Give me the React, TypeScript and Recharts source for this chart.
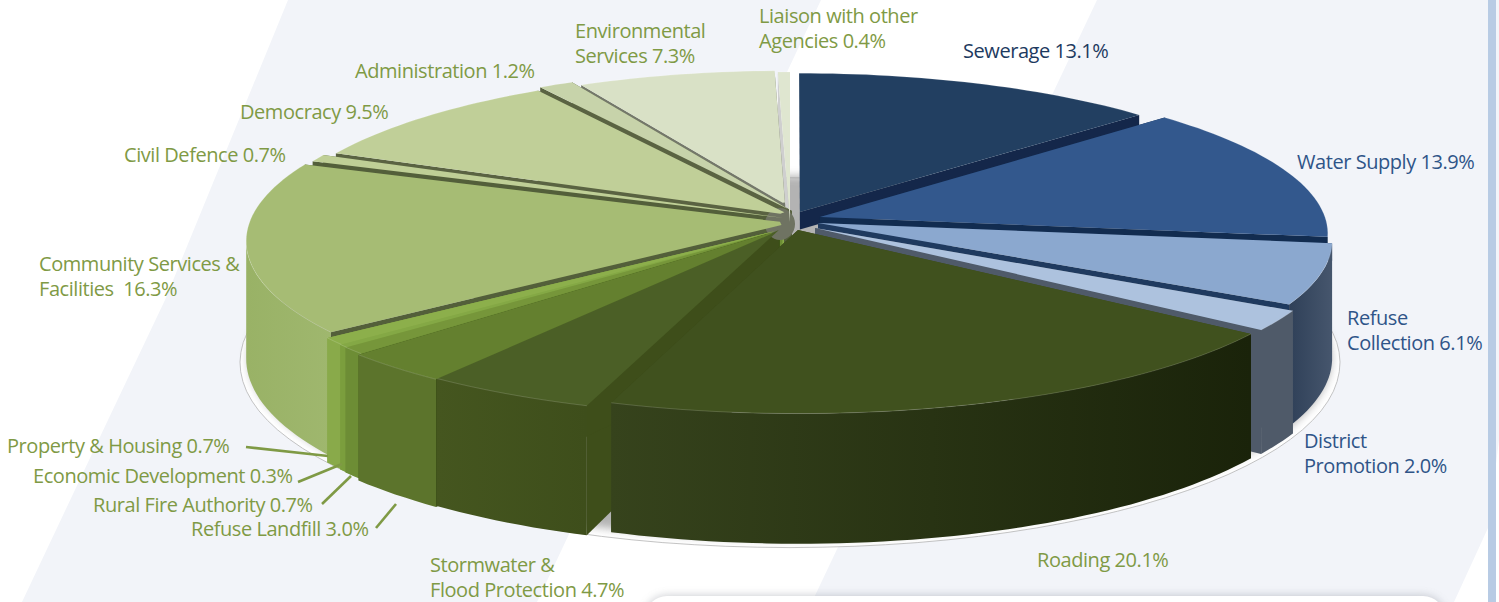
import React from "react";
import { PieChart, Pie } from "recharts";

// Share of rates spending by activity, percent
const categories = [
  "Sewerage", "Water Supply", "Refuse Collection", "District Promotion", "Roading",
  "Stormwater & Flood Protection", "Refuse Landfill", "Rural Fire Authority",
  "Economic Development", "Property & Housing", "Community Services & Facilities",
  "Civil Defence", "Democracy", "Administration", "Environmental Services",
  "Liaison with other Agencies",
];
const shares = [13.1, 13.9, 6.1, 2.0, 20.1, 4.7, 3.0, 0.7, 0.3, 0.7, 16.3, 0.7, 9.5, 1.2, 7.3, 0.4];

// Label text broken onto lines, last line carries the figure
const labelHeads = [
  ["Sewerage "], ["Water Supply "], ["Refuse", "Collection "], ["District", "Promotion "], ["Roading "],
  ["Stormwater &", "Flood Protection "], ["Refuse Landfill "], ["Rural Fire Authority "],
  ["Economic Development "], ["Property & Housing "], ["Community Services &", "Facilities  "],
  ["Civil Defence "], ["Democracy "], ["Administration "], ["Environmental", "Services "],
  ["Liaison with other", "Agencies "],
];

// Where each label sits and how it is coloured
const labelSpots: [number, number][] = [
  [963, 58], [1297, 169], [1347, 325], [1304, 448], [1037, 567],
  [430, 572], [191, 536], [93, 512], [33, 483], [7, 453], [39, 271],
  [124, 162], [240, 119], [355, 78], [575, 38], [759, 23],
];
const labelInk = ["#1d3a60", "#2f5488", "#2f5488", "#2f5488", "#7f9a45", "#7f9a45", "#7f9a45", "#7f9a45",
  "#7f9a45", "#7f9a45", "#7f9a45", "#7f9a45", "#7f9a45", "#7f9a45", "#7f9a45", "#7f9a45"];

const leaderLines: Record<number, [number, number, number, number]> = {
  6: [376, 528, 396, 504],
  7: [322, 504, 351, 476],
  8: [298, 482, 342, 464],
  9: [246, 447, 328, 456],
};

const topInk = ["#223f61", "#33588d", "#8ba8cf", "#adc2de", "#40511e", "#4b5f26", "#64802f", "#76963a",
  "#84a845", "#8caf4b", "#a6bc74", "#bfcf96", "#c0cf98", "#c7d3aa", "#d9e1c6", "#dfe6d0"];
const sideInk = ["#14274a", "#122c50", "#1f3a5f", "#4f5a69", "#3b4a1a", "#3e4e1a", "#3e5418", "#6d8d35",
  "#7b9e3d", "#89aa4a", "#535f3a", "#535f3a", "#5a6342", "#5a6342", "#74786a", "#cfcfcf"];
const wallFrom = ["#223f61", "#2b4a78", "#2f4058", "#4f5a69", "#36431c", "#45561f", "#5c742c", "#6d8d35",
  "#7b9e3d", "#89aa4a", "#99b266", "#a6bc74", "#b0c088", "#c0cc9f", "#cfd8b8", "#d8dfc8"];
const wallTo = ["#223f61", "#2b4a78", "#46566d", "#4f5a69", "#1a230a", "#3e4e1b", "#5c742c", "#6d8d35",
  "#7b9e3d", "#89aa4a", "#9fb76e", "#a6bc74", "#b0c088", "#c0cc9f", "#cfd8b8", "#d8dfc8"];

// How far each slice is moved away from the hub (px) and how its rim is scaled
const sliceShift: [number, number][] = [
  [10, -10], [30, -5], [28, 1], [25, 6], [8, 8], [-11, 8], [-10, 8], [-8, 7],
  [-7, 7], [-6, 7], [0, 1], [2, -3], [0, -7], [2, -11], [-5, -18], [0, 0],
];
const rimScale = [0.93, 0.947, 0.955, 0.965, 0.98, 0.995, 1, 1, 1, 1, 1.01, 1, 0.97, 0.97, 0.9, 1];
const faceDrop = [0.15, 0.15, 0.15, 1, 1, 1, 1, 1, 1, 1, 1, 1, 1, 1, 1, 1];
// Wedge tips stop short of the hub so the thin slices do not crowd it
const tipInset = [0, 0, 0, 0, 0, 0, 0.025, 0.025, 0.025, 0.025, 0.02, 0.02, 0.02, 0.02, 0.01, 0];

const rows = categories.map((name, i) => ({ name, value: shares[i], idx: i }));
const rowsBackward = [...rows].reverse();

const CX = 790, CY = 222, RX = 535, RY = 166, PERSP = 0.106, DEPTH = 116;
const CHART_W = 1499, CHART_H = 602;

// Disc coordinates to screen: the near half of the disc is drawn larger
function project(x: number, y: number, down = 0): [number, number] {
  const s = 1 / (1 - PERSP * y);
  return [CX + RX * x * s, CY + RY * y * s + down * DEPTH * s];
}
const toPath = (pts: [number, number][]) =>
  pts.map((p, i) => `${i ? "L" : "M"}${p[0].toFixed(1)} ${p[1].toFixed(1)}`).join("") + "Z";

function sliceGeometry(props: any) {
  const from = ((90 - props.startAngle) * Math.PI) / 180;
  const to = ((90 - props.endAngle) * Math.PI) / 180;
  const a0 = Math.min(from, to), a1 = Math.max(from, to);
  const idx = props.payload?.idx ?? props.idx;
  const off: [number, number] = [sliceShift[idx][0] / RX, sliceShift[idx][1] / RY];
  const r = rimScale[idx];
  const steps = Math.max(2, Math.ceil((a1 - a0) * 40));
  const rim: [number, number][] = [];
  for (let k = 0; k <= steps; k++) {
    const t = a0 + ((a1 - a0) * k) / steps;
    rim.push([off[0] + r * Math.sin(t), off[1] - r * Math.cos(t)]);
  }
  const inset = tipInset[idx];
  const tip: [number, number][] = inset
    ? [
        [off[0] + inset * Math.sin(a1), off[1] - inset * Math.cos(a1)],
        [off[0] + inset * Math.sin(a0), off[1] - inset * Math.cos(a0)],
      ]
    : [off];
  return { idx, off, rim, tip };
}

function TopFace(props: any) {
  const { idx, rim, tip } = sliceGeometry(props);
  const rimLine = rim.map((p) => project(p[0], p[1]));
  return (
    <g>
      <path d={toPath([...tip.map((p) => project(p[0], p[1])), ...rimLine])} fill={topInk[idx]} />
      <path d={"M" + rimLine.map((p) => p.join(" ")).join("L")} fill="none" stroke="#ffffff" strokeOpacity={0.16} strokeWidth={1} />
    </g>
  );
}

function SideFaces(props: any) {
  const { idx, off, rim } = sliceGeometry(props);
  const drop = faceDrop[idx];
  const face = (p: [number, number]) =>
    toPath([project(off[0], off[1]), project(p[0], p[1]), project(p[0], p[1], drop), project(off[0], off[1], drop)]);
  // Only the rim past the widest point of the disc shows a wall
  const front = rim.filter((p) => p[1] > 0.09);
  const wall = front.length > 1
    ? toPath([...front.map((p) => project(p[0], p[1])), ...[...front].reverse().map((p) => project(p[0], p[1], 1))])
    : null;
  return (
    <g>
      <path d={face(rim[0])} fill={sideInk[idx]} />
      <path d={face(rim[rim.length - 1])} fill={sideInk[idx]} />
      {wall && idx >= 2 && <path d={wall} fill={`url(#wall${idx})`} />}
      {idx === 5 && <ellipse cx={CX - 10} cy={CY + 2} rx={15} ry={16} fill="#6f7362" />}
    </g>
  );
}

const NoShape = () => <g />;

function LeftWalls(props: any) {
  return (props.payload?.idx ?? 0) >= 5 ? <SideFaces {...props} /> : <NoShape />;
}
function RightWalls(props: any) {
  return (props.payload?.idx ?? 0) < 5 ? <SideFaces {...props} /> : <NoShape />;
}

function SliceLabel(props: any) {
  const i = props.payload?.idx ?? props.index;
  const [x, y] = labelSpots[i];
  const heads = labelHeads[i];
  const line = leaderLines[i];
  return (
    <g>
      {heads.map((h, k) => (
        <text key={k} x={x} y={y + k * 25} fill={labelInk[i]} fontSize={20} xmlSpace="preserve"
          fontFamily="'Open Sans', sans-serif" letterSpacing={-0.44}>
          {k === heads.length - 1 ? `${h}${shares[i].toFixed(1)}%` : h}
        </text>
      ))}
      {line && <line x1={line[0]} y1={line[1]} x2={line[2]} y2={line[3]} stroke="#7f9a45" strokeWidth={2.6} />}
    </g>
  );
}

// Pale diagonal bands, side bar, and the panel peeking in at the bottom edge
function Backdrop() {
  const floor: [number, number][] = [];
  for (let k = 0; k <= 120; k++) {
    const t = (k / 120) * Math.PI * 2;
    floor.push([Math.sin(t) * 1.022, -Math.cos(t) * 1.022]);
  }
  const d = toPath(floor.map((p) => project(p[0], p[1], 1.04)));
  return (
    <svg width={CHART_W} height={CHART_H} style={{ position: "absolute", left: 0, top: 0 }}>
      <defs>
        <filter id="soft" x="-5%" y="-20%" width="110%" height="140%"><feGaussianBlur stdDeviation="4" /></filter>
        <filter id="soft2" x="-5%" y="-200%" width="110%" height="500%"><feGaussianBlur stdDeviation="5" /></filter>
      </defs>
      <rect width={CHART_W} height={CHART_H} fill="#ffffff" />
      <polygon points="288,0 821,0 537,602 22,602 108,420 165,300" fill="#f2f4f9" />
      <polygon points="1097,0 1499,0 1499,440 1488,528 1454,602 812,602" fill="#f2f4f9" />
      <rect x={1488} y={0} width={8} height={602} fill="#b8cbe4" />
      <path d={d} fill="#ffffff" stroke="#b5b5b5" strokeWidth={0.8} />
      <path d={toPath(floor.map((p) => project(p[0] * 0.985, p[1] * 0.985, 1.0)))} fill="#9a9a9a" filter="url(#soft)" opacity={0.75} />
      <rect x={645} y={596} width={800} height={50} rx={22} fill="#6f7480" filter="url(#soft2)" opacity={0.4} />
      <rect x={645} y={596} width={800} height={50} rx={22} fill="#ffffff" />
    </svg>
  );
}

export default function App() {
  return (
    <div style={{ position: "fixed", left: 0, top: 0, width: CHART_W, height: CHART_H, overflow: "hidden" }}>
      <Backdrop />
      <div style={{ position: "absolute", left: 0, top: 0 }}>
        <PieChart width={CHART_W} height={CHART_H} margin={{ top: 0, right: 0, bottom: 0, left: 0 }}>
          <defs>
            {categories.map((_, i) => (
              <linearGradient key={i} id={`wall${i}`} x1="0" y1="0" x2="1" y2="0">
                <stop offset="0%" stopColor={wallFrom[i]} />
                <stop offset="100%" stopColor={wallTo[i]} />
              </linearGradient>
            ))}
          </defs>
          <Pie data={rowsBackward} dataKey="value" cx={CX} cy={CY} outerRadius={200} startAngle={-270} endAngle={90}
            shape={LeftWalls} isAnimationActive={false} stroke="none" legendType="none" />
          <Pie data={rows} dataKey="value" cx={CX} cy={CY} outerRadius={200} startAngle={90} endAngle={-270}
            shape={RightWalls} isAnimationActive={false} stroke="none" legendType="none" />
          <Pie data={rows} dataKey="value" cx={CX} cy={CY} outerRadius={200} startAngle={90} endAngle={-270}
            shape={TopFace} isAnimationActive={false} stroke="none" label={SliceLabel} labelLine={false} />
        </PieChart>
      </div>
    </div>
  );
}
